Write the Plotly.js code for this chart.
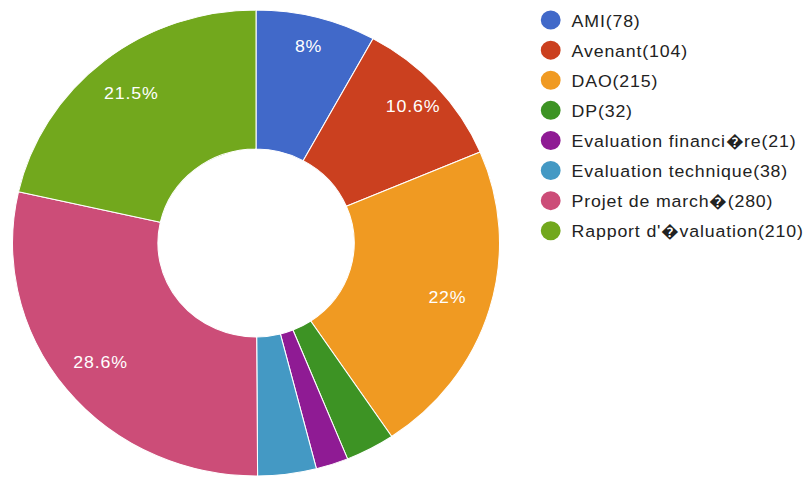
<!DOCTYPE html>
<html>
<head>
<meta charset="utf-8">
<script src="https://cdn.plot.ly/plotly-3.0.1.min.js"></script>
<style>
  html, body { margin: 0; padding: 0; background: #fff; overflow: hidden; }
  #wrap { width: 810px; height: 477px; overflow: hidden; }
  #chart { width: 775px; height: 477px; transform: scaleX(1.045); transform-origin: 0 0; }
  .legendtext { letter-spacing: 0.8px; }
  .slicetext { letter-spacing: 0.8px; }
  #chart .legend .scrollbox { clip-path: none !important; }
</style>
</head>
<body>
<div id="wrap"><div id="chart"></div></div>
<script>
const categories = ['AMI', 'Avenant', 'DAO', 'DP', 'Evaluation financi\uFFFDre', 'Evaluation technique', 'Projet de march\uFFFD', "Rapport d'\uFFFDvaluation"];
const counts = [78, 104, 215, 32, 21, 38, 280, 210];
const colors = ['#4169c9', '#cb401f', '#f09a22', '#3d9324', '#8f1b94', '#4499c4', '#cc4d78', '#72a81d'];
const labelThreshold = 0.05;   // slices below this get no label
const smallSlice = 0.12;       // labels of narrower slices sit further out

const total = counts.reduce((a, b) => a + b, 0);
const pct = v => (Math.round(v / total * 1000) / 10) + '%';
const bigText = counts.map(v => (v / total >= smallSlice) ? pct(v) : '');
const smallText = counts.map(v => (v / total >= labelThreshold && v / total < smallSlice) ? pct(v) : '');

const W = 775, H = 477;
const pieDomain = { x: [12 / W, 478 / W], y: [1 - 476 / H, 1 - 10 / H] };

const pie = {
  type: 'pie',
  labels: categories,
  values: counts,
  textinfo: 'none',
  sort: false,
  direction: 'clockwise',
  rotation: 0,
  hole: 0.403,
  marker: { colors: colors, line: { color: '#ffffff', width: 1 } },
  showlegend: false,
  hoverinfo: 'none',
  domain: pieDomain
};

function labelRing(texts, hole) {
  return {
    type: 'pie',
    labels: categories,
    values: counts,
    text: texts,
    textinfo: 'text',
    textposition: 'inside',
    insidetextorientation: 'horizontal',
    textfont: { family: 'Liberation Sans, Arial, sans-serif', size: 17, color: '#ffffff' },
    sort: false,
    direction: 'clockwise',
    rotation: 0,
    hole: hole,
    marker: { colors: categories.map(() => 'rgba(0,0,0,0)'), line: { width: 0 } },
    showlegend: false,
    hoverinfo: 'none',
    domain: pieDomain
  };
}

const legendTraces = categories.map((c, i) => ({
  type: 'scatter',
  mode: 'markers',
  x: [null], y: [null],
  name: c + '(' + counts[i] + ')',
  legendgroup: 'g' + i,
  marker: { color: colors[i], size: 16, symbol: 'circle', line: { color: colors[i], width: 3 } },
  hoverinfo: 'none'
}));

const layout = {
  width: W, height: H,
  margin: { l: 0, r: 0, t: 0, b: 0 },
  paper_bgcolor: '#ffffff',
  plot_bgcolor: '#ffffff',
  xaxis: { visible: false },
  yaxis: { visible: false },
  showlegend: true,
  legend: {
    x: 507 / W, y: 1 - 2.5 / H, xanchor: 'left', yanchor: 'top',
    font: { family: 'Liberation Sans, Arial, sans-serif', size: 17, color: '#222222' },
    tracegroupgap: 5,
    itemsizing: 'trace',
    bgcolor: 'rgba(0,0,0,0)'
  }
};

Plotly.newPlot('chart', [pie, labelRing(bigText, 0.64), labelRing(smallText, 0.74)].concat(legendTraces), layout, { displayModeBar: false, staticPlot: true });
</script>
</body>
</html>
